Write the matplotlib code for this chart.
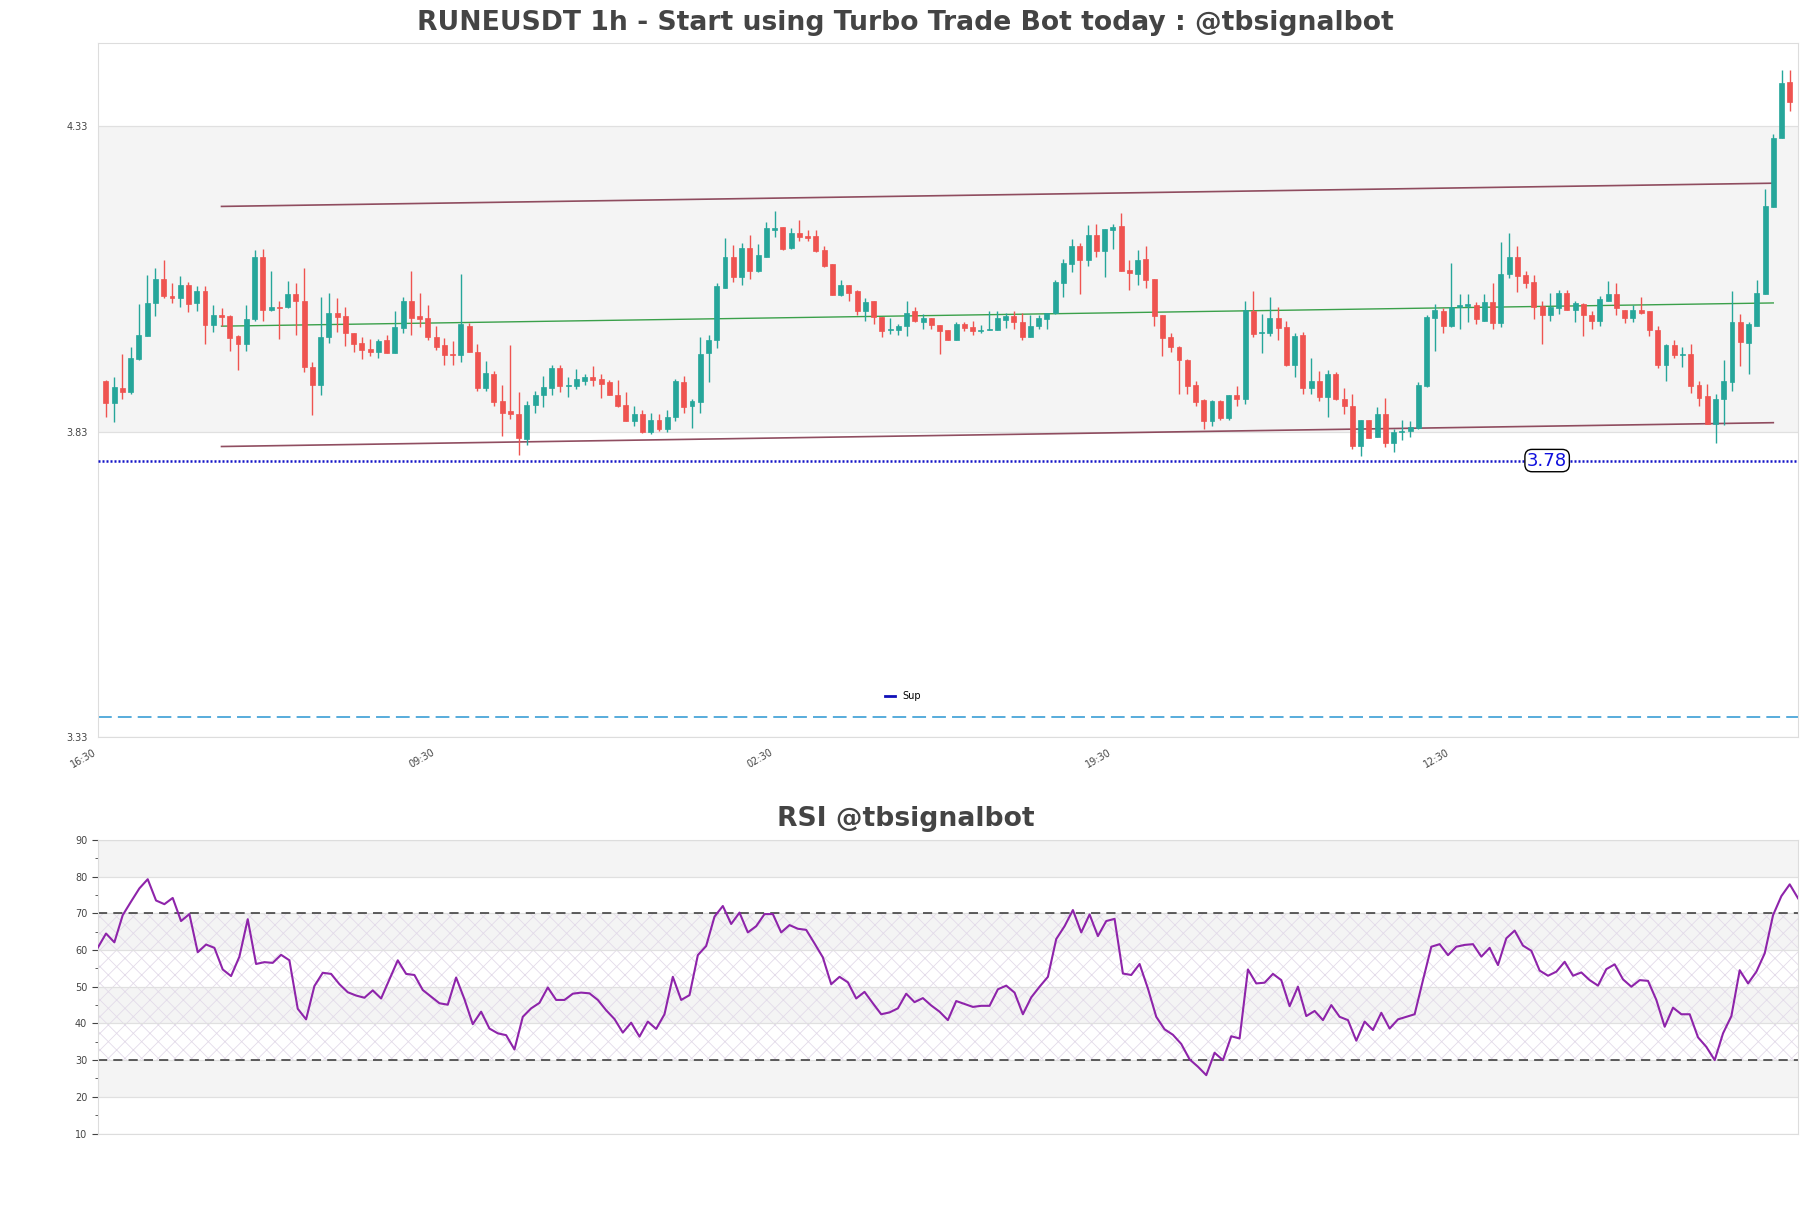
import numpy as np
import matplotlib
matplotlib.use('Agg')
import matplotlib.pyplot as plt
from matplotlib.lines import Line2D

# ---------------- data ----------------
opens = [3.914, 3.877, 3.902, 3.895, 3.950, 3.987, 4.041, 4.080, 4.053, 4.049,
         4.071, 4.041, 4.060, 4.005, 4.022, 4.020, 3.987, 3.974, 4.014, 4.117,
         4.029, 4.035, 4.034, 4.055, 4.044, 3.936, 3.907, 3.985, 4.024, 4.020,
         3.992, 3.975, 3.965, 3.961, 3.980, 3.959, 4.000, 4.044, 4.019, 4.017,
         3.986, 3.972, 3.958, 3.955, 4.004, 3.961, 3.902, 3.924, 3.880, 3.864,
         3.860, 3.818, 3.874, 3.890, 3.902, 3.934, 3.905, 3.905, 3.913, 3.919,
         3.916, 3.912, 3.891, 3.874, 3.847, 3.860, 3.829, 3.849, 3.835, 3.854,
         3.911, 3.872, 3.879, 3.959, 3.980, 4.066, 4.117, 4.083, 4.131, 4.093,
         4.117, 4.161, 4.165, 4.131, 4.155, 4.150, 4.150, 4.127, 4.104, 4.054,
         4.070, 4.060, 4.028, 4.044, 4.018, 3.997, 3.997, 4.003, 4.027, 4.010,
         4.017, 4.005, 3.996, 3.981, 4.006, 4.001, 3.995, 3.997, 3.997, 4.013,
         4.019, 4.009, 3.986, 4.004, 4.015, 4.024, 4.074, 4.104, 4.135, 4.111,
         4.153, 4.126, 4.160, 4.167, 4.095, 4.088, 4.113, 4.080, 4.021, 3.986,
         3.969, 3.948, 3.906, 3.882, 3.848, 3.880, 3.853, 3.891, 3.883, 4.028,
         3.991, 3.991, 4.016, 4.001, 3.940, 3.988, 3.901, 3.914, 3.887, 3.925,
         3.884, 3.873, 3.807, 3.849, 3.822, 3.860, 3.811, 3.829, 3.832, 3.837,
         3.905, 4.016, 4.028, 4.004, 4.034, 4.036, 4.038, 4.012, 4.043, 4.008,
         4.088, 4.117, 4.086, 4.075, 4.036, 4.021, 4.033, 4.058, 4.030, 4.040,
         4.021, 4.011, 4.045, 4.056, 4.030, 4.016, 4.029, 4.027, 3.997, 3.939,
         3.972, 3.956, 3.958, 3.906, 3.888, 3.843, 3.883, 3.912, 4.009, 3.976,
         4.004, 4.055, 4.198, 4.311, 4.403]
highs = [3.915, 3.920, 3.957, 3.969, 4.040, 4.086, 4.098, 4.112, 4.073, 4.085,
         4.076, 4.068, 4.068, 4.037, 4.033, 4.022, 3.989, 4.037, 4.127, 4.129,
         4.094, 4.045, 4.077, 4.074, 4.099, 3.944, 4.051, 4.058, 4.049, 4.034,
         3.992, 3.986, 3.982, 3.982, 3.988, 4.027, 4.050, 4.094, 4.058, 4.037,
         4.004, 3.983, 3.978, 4.089, 4.008, 3.974, 3.946, 3.930, 3.906, 3.972,
         3.896, 3.880, 3.897, 3.921, 3.939, 3.940, 3.920, 3.933, 3.925, 3.937,
         3.925, 3.915, 3.915, 3.896, 3.872, 3.865, 3.861, 3.860, 3.866, 3.916,
         3.922, 3.884, 3.986, 3.989, 4.074, 4.148, 4.136, 4.139, 4.153, 4.138,
         4.174, 4.191, 4.165, 4.163, 4.177, 4.161, 4.161, 4.134, 4.104, 4.079,
         4.070, 4.063, 4.049, 4.044, 4.018, 4.016, 4.007, 4.045, 4.035, 4.023,
         4.017, 4.005, 3.996, 4.010, 4.010, 4.012, 4.005, 4.027, 4.027, 4.024,
         4.027, 4.024, 4.021, 4.021, 4.025, 4.079, 4.113, 4.145, 4.139, 4.169,
         4.171, 4.162, 4.171, 4.188, 4.111, 4.127, 4.135, 4.081, 4.021, 3.991,
         3.970, 3.950, 3.914, 3.883, 3.882, 3.882, 3.891, 3.905, 4.044, 4.060,
         4.023, 4.051, 4.035, 4.012, 3.992, 3.994, 3.951, 3.929, 3.932, 3.928,
         3.901, 3.892, 3.850, 3.849, 3.870, 3.886, 3.835, 3.850, 3.848, 3.912,
         4.022, 4.040, 4.033, 4.107, 4.055, 4.055, 4.043, 4.055, 4.073, 4.141,
         4.155, 4.134, 4.094, 4.086, 4.045, 4.058, 4.063, 4.063, 4.045, 4.041,
         4.028, 4.052, 4.077, 4.073, 4.030, 4.037, 4.051, 4.027, 4.003, 3.974,
         3.980, 3.969, 3.973, 3.914, 3.909, 3.892, 3.947, 4.060, 4.023, 4.009,
         4.078, 4.227, 4.317, 4.422, 4.422]
lows = [3.855, 3.846, 3.883, 3.892, 3.948, 3.987, 4.020, 4.049, 4.041, 4.035,
        4.026, 4.027, 3.974, 3.993, 4.003, 3.962, 3.931, 3.963, 4.012, 4.011,
        4.028, 3.982, 4.032, 3.988, 3.928, 3.858, 3.891, 3.975, 3.993, 3.971,
        3.961, 3.950, 3.954, 3.951, 3.959, 3.959, 3.992, 3.989, 4.002, 3.981,
        3.964, 3.940, 3.940, 3.944, 3.961, 3.897, 3.897, 3.872, 3.823, 3.851,
        3.792, 3.809, 3.861, 3.871, 3.891, 3.895, 3.887, 3.900, 3.906, 3.905,
        3.886, 3.890, 3.871, 3.847, 3.839, 3.828, 3.827, 3.832, 3.829, 3.847,
        3.861, 3.836, 3.861, 3.912, 3.967, 4.066, 4.075, 4.070, 4.081, 4.091,
        4.116, 4.149, 4.127, 4.130, 4.143, 4.142, 4.125, 4.100, 4.054, 4.052,
        4.045, 4.021, 4.011, 4.006, 3.985, 3.990, 3.988, 3.987, 4.010, 3.998,
        3.998, 3.957, 3.980, 3.980, 3.995, 3.988, 3.992, 3.997, 3.996, 4.000,
        3.998, 3.980, 3.985, 3.998, 3.998, 4.023, 4.051, 4.092, 4.055, 4.101,
        4.117, 4.083, 4.129, 4.093, 4.062, 4.071, 4.065, 4.003, 3.954, 3.961,
        3.892, 3.892, 3.872, 3.834, 3.840, 3.849, 3.850, 3.872, 3.875, 3.985,
        3.959, 3.987, 3.980, 3.938, 3.919, 3.892, 3.892, 3.880, 3.854, 3.882,
        3.860, 3.802, 3.790, 3.820, 3.822, 3.805, 3.797, 3.817, 3.822, 3.834,
        3.903, 3.963, 3.992, 4.001, 3.998, 4.009, 4.007, 4.011, 3.998, 4.002,
        4.082, 4.059, 4.065, 4.015, 3.974, 4.011, 4.023, 4.030, 4.010, 3.987,
        3.999, 4.003, 4.044, 4.022, 4.008, 4.010, 4.023, 3.987, 3.934, 3.914,
        3.951, 3.936, 3.894, 3.873, 3.843, 3.811, 3.842, 3.897, 3.938, 3.924,
        4.004, 4.055, 4.198, 4.311, 4.355]
closes = [3.877, 3.904, 3.895, 3.951, 3.988, 4.041, 4.081, 4.052, 4.049, 4.071,
          4.039, 4.060, 4.005, 4.022, 4.018, 3.984, 3.974, 4.014, 4.117, 4.030,
          4.035, 4.033, 4.055, 4.044, 3.936, 3.907, 3.986, 4.024, 4.018, 3.992,
          3.974, 3.964, 3.961, 3.978, 3.959, 4.001, 4.044, 4.017, 4.015, 3.985,
          3.969, 3.956, 3.955, 4.006, 3.961, 3.902, 3.926, 3.879, 3.861, 3.860,
          3.820, 3.874, 3.891, 3.904, 3.934, 3.905, 3.906, 3.916, 3.919, 3.915,
          3.908, 3.890, 3.872, 3.847, 3.860, 3.829, 3.849, 3.834, 3.855, 3.913,
          3.871, 3.880, 3.958, 3.981, 4.068, 4.117, 4.083, 4.131, 4.093, 4.119,
          4.163, 4.163, 4.129, 4.155, 4.149, 4.147, 4.126, 4.102, 4.054, 4.071,
          4.058, 4.028, 4.042, 4.018, 3.995, 3.999, 4.004, 4.025, 4.011, 4.017,
          4.005, 3.995, 3.981, 4.006, 4.000, 3.995, 3.997, 3.999, 4.016, 4.020,
          4.010, 3.986, 4.004, 4.016, 4.025, 4.076, 4.106, 4.135, 4.111, 4.153,
          4.126, 4.162, 4.166, 4.093, 4.090, 4.112, 4.078, 4.020, 3.984, 3.969,
          3.947, 3.905, 3.879, 3.848, 3.880, 3.853, 3.891, 3.883, 4.029, 3.990,
          3.994, 4.016, 4.000, 3.940, 3.987, 3.902, 3.914, 3.887, 3.925, 3.883,
          3.872, 3.807, 3.849, 3.820, 3.860, 3.811, 3.829, 3.832, 3.838, 3.906,
          4.018, 4.029, 4.003, 4.034, 4.037, 4.040, 4.014, 4.042, 4.008, 4.088,
          4.117, 4.085, 4.074, 4.034, 4.021, 4.034, 4.058, 4.030, 4.041, 4.021,
          4.011, 4.047, 4.056, 4.032, 4.016, 4.030, 4.025, 3.997, 3.939, 3.972,
          3.956, 3.957, 3.905, 3.886, 3.843, 3.884, 3.913, 4.009, 3.977, 4.006,
          4.058, 4.199, 4.311, 4.401, 4.370]

rsi = [60.6, 64.5, 62.1, 69.5, 73.2, 76.8, 79.3, 73.5, 72.5, 74.2,
       67.9, 69.8, 59.4, 61.5, 60.6, 54.7, 52.9, 58.2, 68.4, 56.2,
       56.7, 56.5, 58.7, 57.2, 44.0, 41.1, 50.2, 53.8, 53.5, 50.7,
       48.5, 47.6, 47.0, 49.0, 46.8, 52.0, 57.2, 53.5, 53.2, 49.1,
       47.3, 45.5, 45.1, 52.5, 46.6, 39.8, 43.2, 38.6, 37.3, 36.8,
       32.9, 41.8, 44.1, 45.6, 49.8, 46.4, 46.4, 48.1, 48.4, 48.2,
       46.4, 43.6, 41.2, 37.5, 40.2, 36.4, 40.5, 38.5, 42.5, 52.7,
       46.4, 47.7, 58.6, 61.1, 69.1, 72.0, 67.1, 70.2, 64.8, 66.5,
       69.8, 69.8, 64.8, 66.8, 65.8, 65.5, 61.8, 58.0, 50.7, 52.7,
       51.2, 46.8, 48.6, 45.5, 42.5, 43.0, 44.1, 48.1, 45.8, 46.9,
       44.9, 43.2, 40.9, 46.1, 45.3, 44.5, 44.8, 44.8, 49.3, 50.3,
       48.4, 42.5, 47.1, 50.0, 52.7, 63.0, 66.5, 70.9, 64.8, 69.7,
       63.8, 67.9, 68.5, 53.6, 53.2, 56.2, 49.5, 41.8, 38.4, 36.9,
       34.4, 30.2, 28.2, 25.9, 32.0, 30.0, 36.5, 35.9, 54.7, 50.9,
       51.1, 53.5, 51.8, 44.7, 50.0, 42.0, 43.4, 40.9, 45.0, 41.8,
       40.9, 35.3, 40.5, 38.2, 42.9, 38.6, 41.1, 41.8, 42.5, 51.8,
       60.9, 61.6, 58.6, 60.9, 61.4, 61.6, 58.2, 60.6, 55.9, 63.2,
       65.3, 61.2, 59.8, 54.4, 53.0, 54.1, 56.8, 53.0, 53.9, 51.8,
       50.3, 54.8, 56.1, 52.0, 50.0, 51.8, 51.6, 46.4, 39.1, 44.3,
       42.5, 42.5, 36.2, 33.6, 30.0, 37.3, 42.0, 54.5, 50.9, 54.1,
       59.1, 69.5, 74.7, 77.9, 74.1]

channel_x = [15, 203]
channel_upper = [4.199, 4.237]
channel_mid = [4.003, 4.041]
channel_lower = [3.806, 3.845]

sup_level = 3.783
sup_text = '3.78'
sup_label_x = 175.6
low_level = 3.364

time_ticks = [0, 41, 82, 123, 164]
time_labels = ['16:30', '09:30', '02:30', '19:30', '12:30']
price_ticks = [3.33, 3.83, 4.33]
rsi_ticks = [10, 20, 30, 40, 50, 60, 70, 80, 90]

title_main = 'RUNEUSDT 1h - Start using Turbo Trade Bot today : @tbsignalbot'
title_rsi = 'RSI @tbsignalbot'

# ---------------- figure ----------------
UP = '#26a69a'
DOWN = '#ef5350'
BAND = '#f4f4f4'
SPINE = '#dddddd'
TXT = '#444444'

plt.rcParams['hatch.linewidth'] = 0.6

fig = plt.figure(figsize=(18.11, 12.08), dpi=100)
ax = fig.add_axes([0.05395, 0.38965, 0.9389, 0.5745])
axr = fig.add_axes([0.05395, 0.06167, 0.9389, 0.2430])

o = np.array(opens); h = np.array(highs); l = np.array(lows); c = np.array(closes)
x = np.arange(1, len(o) + 1)
up = c >= o
cols = np.where(up, UP, DOWN)

ax.axhspan(3.83, 4.33, color=BAND, zorder=0, lw=0)
for yv in price_ticks:
    ax.axhline(yv, color='#e0e0e0', lw=0.9, zorder=0.5)

ax.vlines(x, l, h, colors=cols, lw=1.0, zorder=2)
body_bottom = np.minimum(o, c)
body_h = np.maximum(np.abs(c - o), 0.0015)
ax.bar(x, body_h, bottom=body_bottom, width=0.6, color=cols, edgecolor=cols, lw=0.5, zorder=3)

ax.plot(channel_x, channel_upper, color='#7d2f45', lw=1.2, alpha=0.85, zorder=1.5)
ax.plot(channel_x, channel_lower, color='#7d2f45', lw=1.2, alpha=0.85, zorder=1.5)
ax.plot(channel_x, channel_mid, color='#3aa04a', lw=1.0, zorder=1.5)

ax.axhline(sup_level, color='#1414c8', lw=1.8, ls=(0, (0.8, 0.8)), zorder=4)
ax.axhline(low_level, color='#2a96d2', lw=1.1, ls=(0, (9, 4)), zorder=2)
ax.text(sup_label_x, sup_level, sup_text, color='#1010dd', fontsize=13, ha='center', va='center',
        zorder=6, bbox=dict(boxstyle='round,pad=0.12,rounding_size=0.4', fc='white', ec='black', lw=1))

ax.legend(handles=[Line2D([0], [0], color='#1010b8', lw=2)], labels=['Sup'],
          loc='center', bbox_to_anchor=(0.4736, 0.0588), frameon=False, fontsize=7,
          handlelength=1.0)

ax.set_xlim(0, 206)
ax.set_ylim(3.33, 4.466)
ax.set_yticks(price_ticks)
ax.set_yticklabels([f'{v:.2f}' for v in price_ticks])
ax.set_xticks(time_ticks)
ax.set_xticklabels(time_labels, rotation=30, ha='right')
ax.tick_params(axis='both', length=0, pad=7, labelsize=7, colors=TXT)
for s in ax.spines.values():
    s.set_color(SPINE)

# ---------------- RSI ----------------
xr = np.arange(len(rsi))
for lo, hi in [(80, 90), (60, 70), (40, 50), (20, 30)]:
    axr.axhspan(lo, hi, color=BAND, lw=0, zorder=0)
axr.axhspan(30, 70, facecolor='none', edgecolor='#e3dbe9', hatch='xx', lw=0, zorder=0.6)
for yv in rsi_ticks:
    axr.axhline(yv, color='#e0e0e0', lw=0.9, zorder=0.7)
axr.axhline(70, color='#333333', lw=1.1, ls=(0, (6, 4)), zorder=2)
axr.axhline(30, color='#333333', lw=1.1, ls=(0, (6, 4)), zorder=2)
axr.plot(xr, rsi, color='#8e24aa', lw=1.5, zorder=3)

axr.set_xlim(0, len(rsi) - 1)
axr.set_ylim(10, 90)
axr.set_yticks(rsi_ticks)
axr.set_yticks(np.arange(15, 90, 10), minor=True)
axr.set_xticks([])
axr.tick_params(axis='y', which='both', labelsize=7, colors=TXT, length=4)
axr.tick_params(axis='y', which='minor', length=2.5)
for s in axr.spines.values():
    s.set_color(SPINE)

fig.text(0.5, 0.981, title_main, ha='center', va='center', fontsize=19.2, fontweight='bold', color=TXT)
fig.text(0.5, 0.322, title_rsi, ha='center', va='center', fontsize=19.2, fontweight='bold', color=TXT)

fig.savefig('out.png', dpi=100)
